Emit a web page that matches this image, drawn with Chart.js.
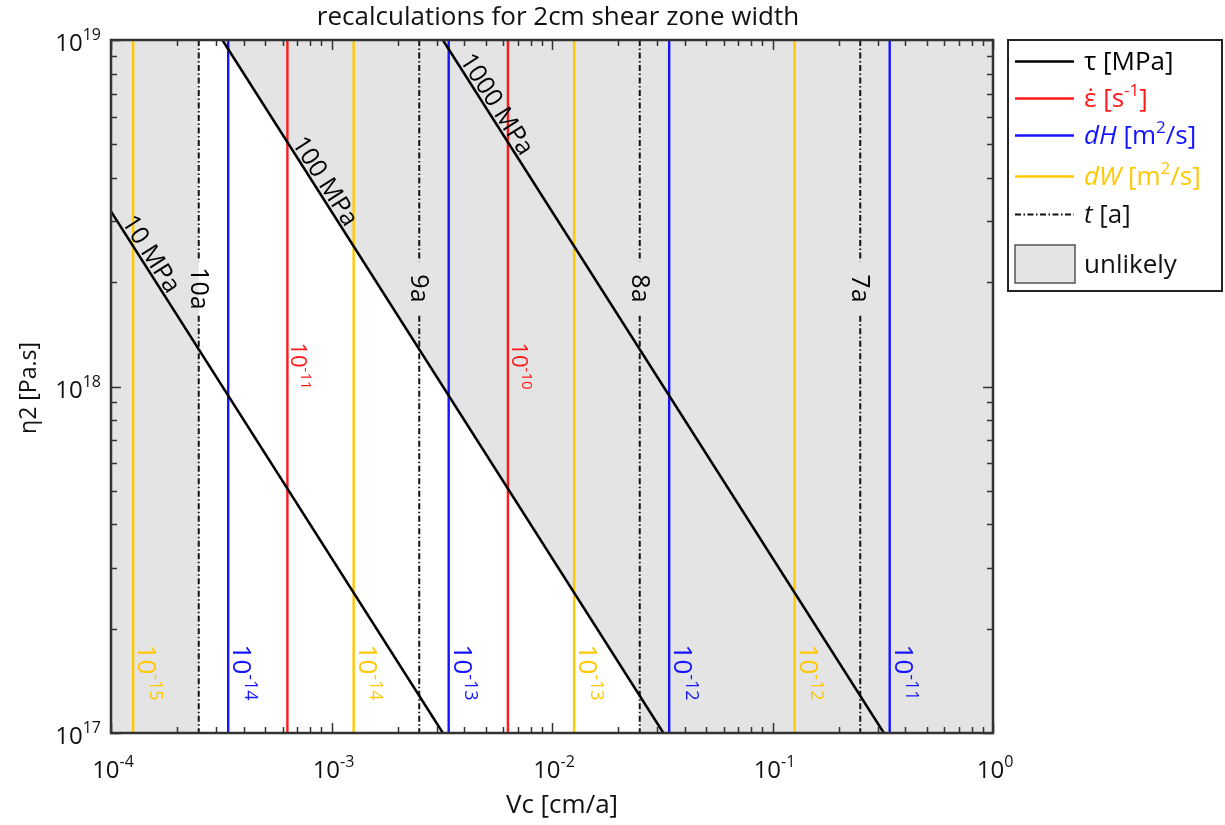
<!DOCTYPE html>
<html>
<head>
<meta charset="utf-8">
<script src="https://cdn.jsdelivr.net/npm/chart.js@4.4.1/dist/chart.umd.min.js"></script>
<style>
  html, body { margin: 0; padding: 0; background: #fff; }
  #wrap { width: 1225px; height: 825px; }
</style>
</head>
<body>
<div id="wrap"><canvas id="chart" width="1225" height="825"></canvas></div>
<script>
// axis ranges and ticks
const vcRange = [1e-4, 1];
const etaRange = [1e17, 1e19];
const xTickExps = [-4, -3, -2, -1, 0];
const yTickExps = [17, 18, 19];

// shear stress lines, end points [Vc, eta]
const tauLabels = ['10 MPa', '100 MPa', '1000 MPa'];
const tauStart = [[1e-4, 3.2e18], [3.2e-4, 1e19], [3.2e-3, 1e19]];
const tauEnd = [[3.2e-3, 1e17], [3.2e-2, 1e17], [3.2e-1, 1e17]];
const tauLabelVc = [1.38e-4, 8.5e-4, 5.1e-3];

// strain rate lines
const rateVc = [6.31e-4, 6.31e-3];
const rateExp = [-11, -10];

// dH lines
const dHVc = [3.4e-4, 3.4e-3, 3.4e-2, 3.4e-1];
const dHExp = [-14, -13, -12, -11];

// dW lines
const dWVc = [1.26e-4, 1.26e-3, 1.26e-2, 1.26e-1];
const dWExp = [-15, -14, -13, -12];

// time lines
const tVc = [2.5e-4, 2.5e-3, 2.5e-2, 2.5e-1];
const tLabels = ['10a', '9a', '8a', '7a'];
const tGapEta = [2.3e18, 1.6e18];   // break in the dash-dot line for its label

// where the small exponent labels start (eta)
const rateLabelEta = 1.34e18;
const flowLabelEta = 1.8e17;

const RED = 'rgb(255,25,25)';
const BLUE = 'rgb(20,20,255)';
const YELLOW = 'rgb(255,200,0)';
const GREY = '#e4e4e4';
const FRAME = '#333333';
const FONT = '"Open Sans", "DejaVu Sans", sans-serif';
const T_DASH = [6, 2.5, 1.5, 2.5];

function font(size, italic) {
  return (italic ? 'italic ' : '') + size + 'px ' + FONT;
}

function log10(v) { return Math.log(v) / Math.LN10; }

// eta on a tau line at a given Vc (straight line in log-log)
function etaOnTau(i, vc) {
  const [x0, y0] = tauStart[i], [x1, y1] = tauEnd[i];
  const f = (log10(vc) - log10(x0)) / (log10(x1) - log10(x0));
  return Math.pow(10, log10(y0) + f * (log10(y1) - log10(y0)));
}

function vLine(vc) {
  return [{x: vc, y: etaRange[1]}, {x: vc, y: etaRange[0]}];
}

const datasets = [];

tauStart.forEach((s, i) => {
  datasets.push({
    label: 'tau ' + tauLabels[i],
    data: [{x: s[0], y: s[1]}, {x: tauEnd[i][0], y: tauEnd[i][1]}],
    borderColor: '#000', borderWidth: 2.5
  });
});
rateVc.forEach(v => datasets.push({label: 'rate', data: vLine(v), borderColor: RED, borderWidth: 2.4}));
dHVc.forEach(v => datasets.push({label: 'dH', data: vLine(v), borderColor: BLUE, borderWidth: 2.4}));
dWVc.forEach(v => datasets.push({label: 'dW', data: vLine(v), borderColor: YELLOW, borderWidth: 2.4}));
tVc.forEach(v => datasets.push({
  label: 't',
  data: [{x: v, y: etaRange[1]}, {x: v, y: tGapEta[0]}, {x: v, y: null}, {x: v, y: tGapEta[1]}, {x: v, y: etaRange[0]}],
  borderColor: '#111', borderWidth: 2, borderDash: T_DASH
}));

// unlikely area: everything outside 10a..8a and above the 100 MPa line
datasets.push({
  label: 'unlikely',
  data: [
    {x: vcRange[0], y: etaRange[0]},
    {x: tVc[0], y: etaRange[0]},
    {x: tVc[0], y: etaRange[1]},
    {x: tauStart[1][0], y: tauStart[1][1]},
    {x: tVc[2], y: etaOnTau(1, tVc[2])},
    {x: tVc[2], y: etaRange[0]},
    {x: vcRange[1], y: etaRange[0]}
  ],
  borderWidth: 0, borderColor: 'rgba(0,0,0,0)',
  backgroundColor: GREY, fill: 'end', order: 5
});

datasets.forEach(d => {
  d.pointRadius = 0;
  d.tension = 0;
  if (d.fill === undefined) d.fill = false;
});

function drawRich(ctx, parts, x, y, align) {
  let w = 0;
  parts.forEach(p => { ctx.font = font(p.size, p.it); w += ctx.measureText(p.t).width; });
  let cx = align === 'center' ? x - w / 2 : (align === 'right' ? x - w : x);
  ctx.textAlign = 'left';
  ctx.textBaseline = 'alphabetic';
  parts.forEach(p => {
    ctx.font = font(p.size, p.it);
    ctx.fillText(p.t, cx, y - (p.rise || 0));
    cx += ctx.measureText(p.t).width;
  });
}

function pow10(exp, size) {
  return [{t: '10', size: size}, {t: String(exp), size: Math.round(size * 0.68), rise: size * 0.45}];
}

const decor = {
  id: 'decor',
  afterDatasetsDraw(chart) {
    const {ctx, chartArea: a, scales: {x, y}} = chart;
    ctx.save();

    // labels on tau lines
    ctx.fillStyle = '#000';
    tauLabels.forEach((lab, i) => {
      const x0 = x.getPixelForValue(tauStart[i][0]), y0 = y.getPixelForValue(tauStart[i][1]);
      const x1 = x.getPixelForValue(tauEnd[i][0]), y1 = y.getPixelForValue(tauEnd[i][1]);
      const px = x.getPixelForValue(tauLabelVc[i]);
      const py = y.getPixelForValue(etaOnTau(i, tauLabelVc[i]));
      ctx.save();
      ctx.translate(px, py);
      ctx.rotate(Math.atan2(y1 - y0, x1 - x0));
      ctx.font = font(25);
      ctx.textAlign = 'center';
      ctx.textBaseline = 'alphabetic';
      ctx.fillText(lab, 0, -3);
      ctx.restore();
    });

    // time labels in the line gaps
    const tLabelEta = Math.sqrt(tGapEta[0] * tGapEta[1]);
    tVc.forEach((v, i) => {
      ctx.save();
      ctx.translate(x.getPixelForValue(v), y.getPixelForValue(tLabelEta));
      ctx.rotate(Math.PI / 2);
      ctx.font = font(25);
      ctx.textAlign = 'center';
      ctx.textBaseline = 'middle';
      ctx.fillText(tLabels[i], 0, 1);
      ctx.restore();
    });

    // exponent labels along vertical lines
    function vertLabel(vc, exp, eta, color, size, off) {
      ctx.save();
      ctx.translate(x.getPixelForValue(vc) + off, y.getPixelForValue(eta));
      ctx.rotate(Math.PI / 2);
      ctx.fillStyle = color;
      drawRich(ctx, pow10(exp, size), 0, 0, 'left');
      ctx.restore();
    }
    rateVc.forEach((v, i) => vertLabel(v, rateExp[i], rateLabelEta, RED, 22, 4));
    dHVc.forEach((v, i) => vertLabel(v, dHExp[i], flowLabelEta, BLUE, 26, 5));
    dWVc.forEach((v, i) => vertLabel(v, dWExp[i], flowLabelEta, YELLOW, 26, 5));

    // frame and ticks on all four sides, pointing inwards
    ctx.strokeStyle = FRAME;
    ctx.lineWidth = 1.5;
    ctx.beginPath();
    for (let e = xTickExps[0]; e < xTickExps[xTickExps.length - 1] + 1; e++) {
      for (let m = 1; m <= 9; m++) {
        const v = m * Math.pow(10, e);
        if (v > vcRange[1] * 1.0001) continue;
        const px = Math.round(x.getPixelForValue(v)) + 0.5;
        const len = m === 1 ? 10 : 6;
        ctx.moveTo(px, a.bottom); ctx.lineTo(px, a.bottom - len);
        ctx.moveTo(px, a.top); ctx.lineTo(px, a.top + len);
      }
    }
    for (let e = yTickExps[0]; e <= yTickExps[yTickExps.length - 1]; e++) {
      for (let m = 1; m <= 9; m++) {
        const v = m * Math.pow(10, e);
        if (v > etaRange[1] * 1.0001) continue;
        const py = Math.round(y.getPixelForValue(v)) + 0.5;
        const len = m === 1 ? 10 : 6;
        ctx.moveTo(a.left, py); ctx.lineTo(a.left + len, py);
        ctx.moveTo(a.right, py); ctx.lineTo(a.right - len, py);
      }
    }
    ctx.stroke();
    ctx.lineWidth = 2.5;
    ctx.strokeRect(a.left, a.top, a.right - a.left, a.bottom - a.top);

    // tick labels
    ctx.fillStyle = '#111';
    xTickExps.forEach(e => {
      drawRich(ctx, pow10(e, 24), x.getPixelForValue(Math.pow(10, e)) + 2, a.bottom + 45, 'center');
    });
    yTickExps.forEach(e => {
      drawRich(ctx, pow10(e, 24), a.left - 10, y.getPixelForValue(Math.pow(10, e)) + 11, 'right');
    });

    // axis titles and title
    ctx.font = font(26);
    ctx.textAlign = 'center';
    ctx.textBaseline = 'alphabetic';
    ctx.fillText('Vc [cm/a]', (a.left + a.right) / 2 + 10, 813);
    ctx.fillText('recalculations for 2cm shear zone width', (a.left + a.right) / 2 + 6, 25);
    ctx.save();
    ctx.translate(29, 388);
    ctx.rotate(-Math.PI / 2);
    ctx.font = font(23);
    ctx.textBaseline = 'middle';
    ctx.fillText('\u03b72 [Pa.s]', 0, 0);
    ctx.restore();

    // legend
    const L = {left: 1008, top: 40, right: 1222, bottom: 291};
    ctx.fillStyle = '#fff';
    ctx.fillRect(L.left, L.top, L.right - L.left, L.bottom - L.top);
    ctx.strokeStyle = '#222';
    ctx.lineWidth = 2;
    ctx.strokeRect(L.left, L.top, L.right - L.left, L.bottom - L.top);
    const items = [
      {y: 61, color: '#000', parts: [{t: '\u03c4 [MPa]', size: 26}]},
      {y: 98, color: RED, parts: [{t: '\u03b5\u0307 [s', size: 26}, {t: '-1', size: 17, rise: 11}, {t: ']', size: 26}]},
      {y: 135, color: BLUE, parts: [{t: 'dH', size: 26, it: true}, {t: ' [m', size: 26}, {t: '2', size: 17, rise: 11}, {t: '/s]', size: 26}]},
      {y: 176, color: YELLOW, parts: [{t: 'dW', size: 26, it: true}, {t: ' [m', size: 26}, {t: '2', size: 17, rise: 11}, {t: '/s]', size: 26}]},
      {y: 214, color: '#111', dash: T_DASH, parts: [{t: 't', size: 26, it: true}, {t: ' [a]', size: 26}]},
      {y: 264, color: '#111', box: true, parts: [{t: 'unlikely', size: 26}]}
    ];
    items.forEach(it => {
      if (it.box) {
        ctx.fillStyle = GREY;
        ctx.fillRect(1015, 245, 60, 38);
        ctx.strokeStyle = '#555';
        ctx.lineWidth = 1.5;
        ctx.strokeRect(1015, 245, 60, 38);
      } else {
        ctx.strokeStyle = it.color;
        ctx.lineWidth = it.dash ? 2 : 2.4;
        ctx.setLineDash(it.dash || []);
        ctx.beginPath();
        ctx.moveTo(1015, it.y + 0.5);
        ctx.lineTo(1074, it.y + 0.5);
        ctx.stroke();
        ctx.setLineDash([]);
      }
      ctx.fillStyle = it.color;
      drawRich(ctx, it.parts, 1084, it.y + 9, 'left');
    });

    ctx.restore();
  }
};

new Chart(document.getElementById('chart'), {
  type: 'line',
  data: {datasets},
  options: {
    responsive: false,
    animation: false,
    layout: {padding: {left: 111, right: 232, top: 40, bottom: 92}},
    scales: {
      x: {type: 'logarithmic', min: vcRange[0], max: vcRange[1], display: false},
      y: {type: 'logarithmic', min: etaRange[0], max: etaRange[1], display: false}
    },
    plugins: {legend: {display: false}, tooltip: {enabled: false}}
  },
  plugins: [decor]
});
</script>
</body>
</html>
